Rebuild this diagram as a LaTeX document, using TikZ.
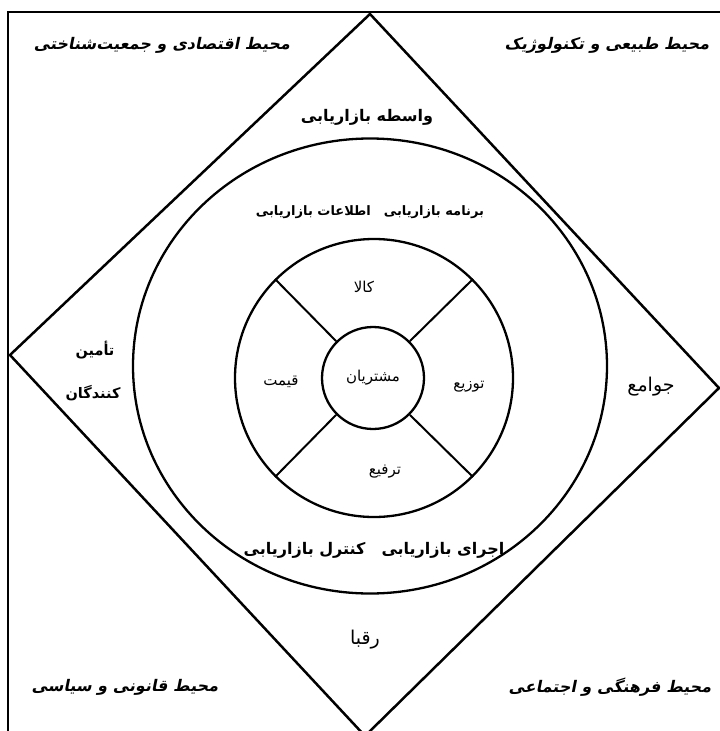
\documentclass[tikz,border=0pt]{standalone}
\usepackage{fontspec}
\usetikzlibrary{shapes.geometric}
\TeXXeTstate=1
\newfontfamily\arabicfont[Script=Arabic]{DejaVu Sans}
\newfontfamily\arabicslant[Script=Arabic,FakeSlant=0.2]{DejaVu Sans}
\newcommand{\fatext}[1]{\beginR #1\endR}

\begin{document}
\begin{tikzpicture}[x=1pt, y=-1pt,
    frameline/.style={line width=2.5pt, draw=black},
    ring/.style={draw=black, line width=2.3pt, inner sep=0pt},
    spoke/.style={line width=2pt, draw=black},
    envlabel/.style={font=\arabicslant\bfseries\fontsize{16}{18}\selectfont},
    mainlabel/.style={font=\arabicfont\bfseries\fontsize{16}{18}\selectfont},
    planlabel/.style={font=\arabicfont\bfseries\fontsize{13}{15}\selectfont},
    mixlabel/.style={font=\arabicfont\fontsize{15}{17}\selectfont},
    actorlabel/.style={font=\arabicfont\fontsize{19}{21}\selectfont}
]
    \useasboundingbox (0,0) rectangle (720,731);
    \clip (0,0) rectangle (720,731);

    % Frame (top and left edges)
    \coordinate (fcorner) at (8,12);
    \coordinate (fright) at (721,12);
    \coordinate (fbottom) at (8,732);
    \draw[frameline] (fright) -- (fcorner) -- (fbottom);

    % Diamond
    \coordinate (dtop) at (370,14);
    \coordinate (dright) at (719,388);
    \coordinate (dbottom) at (365,736);
    \coordinate (dleft) at (10,355);
    \draw[frameline] (dtop) -- (dright) -- (dbottom) -- (dleft) -- cycle;

    % Rings
    \node[ring, ellipse, minimum width=474pt, minimum height=455pt] (market) at (370,366) {};
    \node[ring, circle, minimum size=278pt] (mix) at (374,378) {};
    \node[ring, circle, minimum size=102pt, mixlabel] (core) at (373,378) {\fatext{مشتریان}};

    % Spokes between the mix ring and the core
    \foreach \a in {45,135,225,315}
        \draw[spoke] (mix.\a) -- (core.\a);

    % Environment labels
    \node[envlabel] (econ) at (162,45) {\fatext{محیط اقتصادی و جمعیت‌شناختی}};
    \node[envlabel] (nature) at (607,45) {\fatext{محیط طبیعی و تکنولوژیک}};
    \node[envlabel] (legal) at (125,687) {\fatext{محیط قانونی و سیاسی}};
    \node[envlabel] (culture) at (610,687) {\fatext{محیط فرهنگی و اجتماعی}};

    % Marketing labels
    \node[mainlabel] (agents) at (367,117) {\fatext{واسطه بازاریابی}};
    \node[planlabel] (plan) at (370,212) {\fatext{برنامه بازاریابی\quad اطلاعات بازاریابی}};
    \node[mainlabel] (control) at (374,550) {\fatext{اجرای بازاریابی\quad کنترل بازاریابی}};

    % Mix labels
    \node[mixlabel] (product) at (364,287) {\fatext{کالا}};
    \node[mixlabel] (price) at (281,382) {\fatext{قیمت}};
    \node[mixlabel] (place) at (469,387) {\fatext{توزیع}};
    \node[mixlabel] (promo) at (385,472) {\fatext{ترفیع}};

    % Actors
    \node[planlabel, font=\arabicfont\bfseries\fontsize{14.5}{16}\selectfont] (supply1) at (95,350) {\fatext{تأمین}};
    \node[planlabel, font=\arabicfont\bfseries\fontsize{14.5}{16}\selectfont] (supply2) at (93,393) {\fatext{کنندگان}};
    \node[actorlabel] (public) at (651,387) {\fatext{جوامع}};
    \node[actorlabel] (rivals) at (365,640) {\fatext{رقبا}};
\end{tikzpicture}
\end{document}
